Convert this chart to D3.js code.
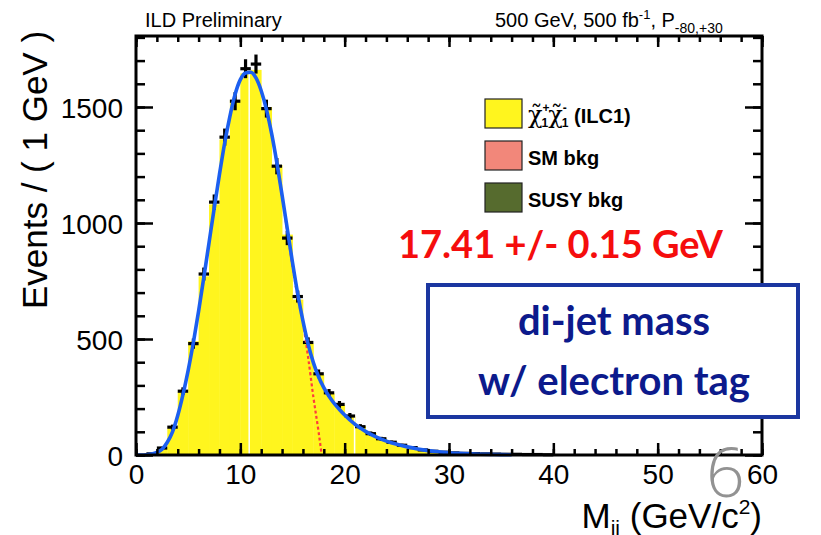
<!DOCTYPE html>
<html>
<head>
<meta charset="utf-8">
<script src="https://cdn.jsdelivr.net/npm/d3@7"></script>
<style>
  body { margin: 0; background: #fff; }
  svg { display: block; }
</style>
</head>
<body>
<svg id="chart" width="821" height="535"></svg>
<script>
// bin centres (1 GeV bins) and the pseudo-data counts with sqrt(N) errors
const binCenters = [0.5, 1.5, 2.5, 3.5, 4.5, 5.5, 6.5, 7.5, 8.5, 9.5,
  10.5, 11.5, 12.5, 13.5, 14.5, 15.5, 16.5, 17.5, 18.5, 19.5,
  20.5, 21.5, 22.5, 23.5, 24.5, 25.5, 26.5, 27.5, 28.5, 29.5,
  30.5, 31.5, 32.5, 33.5, 34.5, 35.5, 36.5, 37.5, 38.5, 39.5];
const eventCounts = [0, 5, 30, 120, 275, 480, 780, 1090, 1370, 1525,
  1665, 1685, 1493, 1245, 935, 683, 485, 350, 268, 218,
  168, 122, 92, 70, 55, 42, 32, 22, 16, 12,
  9, 7, 6, 5, 4, 3, 3, 2, 2, 1];
// stacked signal MC (yellow)
const signalMC = [0, 4, 28, 115, 270, 490, 770, 1080, 1360, 1530,
  1645, 1660, 1500, 1250, 950, 670, 480, 345, 265, 215,
  165, 125, 95, 72, 55, 42, 31, 22, 16, 12,
  9, 7, 5, 4, 3, 3, 2, 2, 1, 1];
// white rendering gaps seen in the filled histogram
const gapLines = [10.85, 20.95];

// total fit (blue)
const fitX = [0, 0.5, 1, 1.5, 2, 2.5, 3, 3.5, 4, 4.5, 5, 5.5, 6, 6.5, 7, 7.5, 8, 8.5, 9, 9.5,
  10, 10.5, 11, 11.5, 12, 12.5, 13, 13.5, 14, 14.5, 15, 15.5, 16, 16.5, 17, 17.5, 18, 18.5, 19, 19.5,
  20, 21, 22, 23, 24, 25, 26, 27, 28, 29, 30, 31, 32, 33, 34, 35, 36];
const fitY = [0, 0, 1, 4, 11, 25, 55, 100, 170, 260, 365, 485, 620, 765, 915, 1065, 1210, 1345, 1460, 1555,
  1618, 1647, 1650, 1625, 1570, 1490, 1385, 1260, 1120, 975, 830, 695, 578, 478, 398, 337, 290, 253, 222, 196,
  172, 132, 102, 78, 60, 46, 35, 26, 19, 14, 10, 7, 5, 3.5, 2.5, 1.5, 1];
// signal component (red dashed), hidden under the total fit below ~15 GeV
const compX = [12, 13, 14, 14.5, 15, 15.5, 16, 16.5, 17, 17.5, 17.8];
const compY = [1570, 1385, 1115, 965, 815, 680, 570, 420, 250, 100, 0];

const xTicks = [0, 10, 20, 30, 40, 50, 60];
const yTicks = [0, 500, 1000, 1500];

const legendItems = ['chi', 'SM bkg', 'SUSY bkg'];
const legendColors = ['#fff51e', '#f2877a', '#566b2e'];

const svg = d3.select('#chart');
const pL = 136, pR = 762, pT = 36, pB = 455;
const x = d3.scaleLinear().domain([0, 60]).range([pL, pR]);
const y = d3.scaleLinear().domain([0, 1806]).range([pB, pT]);

// filled signal histogram
svg.append('g').selectAll('rect')
  .data(binCenters)
  .join('rect')
  .attr('x', (d) => x(d - 0.5))
  .attr('width', (d) => x(d + 0.5) - x(d - 0.5) + 0.4)
  .attr('y', (d, i) => y(signalMC[i]))
  .attr('height', (d, i) => y(0) - y(signalMC[i]))
  .attr('fill', '#fff51e');

gapLines.forEach((g) => {
  let idx = d3.bisectLeft(binCenters.map((c) => c + 0.5), g);
  svg.append('line')
    .attr('x1', x(g)).attr('x2', x(g))
    .attr('y1', y(0)).attr('y2', y(signalMC[idx]))
    .attr('stroke', '#fff').attr('stroke-width', 1.5);
});

const line = d3.line().x((d) => x(d[0])).y((d) => y(d[1])).curve(d3.curveMonotoneX);

// data points with error bars
let pts = svg.append('g').attr('stroke', '#000').attr('stroke-width', 3.2);
binCenters.forEach((c, i) => {
  let n = eventCounts[i];
  if (n <= 0) return;
  let err = Math.sqrt(n);
  pts.append('line')
    .attr('x1', x(c - 0.5)).attr('x2', x(c + 0.5))
    .attr('y1', y(n)).attr('y2', y(n));
  pts.append('line')
    .attr('x1', x(c)).attr('x2', x(c))
    .attr('y1', Math.min(y(n - err), y(0))).attr('y2', y(n + err));
});

svg.append('path')
  .attr('d', line(compX.map((v, i) => [v, compY[i]])))
  .attr('fill', 'none')
  .attr('stroke', '#ff3b3b')
  .attr('stroke-width', 2.2)
  .attr('stroke-dasharray', '3,2.5');

svg.append('path')
  .attr('d', line(fitX.map((v, i) => [v, fitY[i]])))
  .attr('fill', 'none')
  .attr('stroke', '#1c5ff0')
  .attr('stroke-width', 3.6);

// axes, ROOT style ticks pointing inward on all four sides
const minorX = d3.range(0, 61, 2);
const minorY = d3.range(0, 1801, 100);
const tickFont = '"Liberation Sans", Arial, Helvetica, sans-serif';

function styleAxis(g) {
  g.select('.domain').remove();
  g.selectAll('line').attr('stroke', '#000').attr('stroke-width', 2.5);
  g.selectAll('text').attr('font-family', tickFont).attr('fill', '#000');
}

svg.append('g').attr('transform', `translate(0,${pB})`)
  .call(d3.axisBottom(x).tickValues(minorX).tickSize(-6).tickFormat(''))
  .call(styleAxis);
svg.append('g').attr('transform', `translate(0,${pB})`)
  .call(d3.axisBottom(x).tickValues(xTicks).tickSize(-12).tickPadding(9).tickFormat(d3.format('d')))
  .call(styleAxis)
  .selectAll('text').attr('font-size', 28).attr('dy', '0.71em');
svg.append('g').attr('transform', `translate(0,${pT})`)
  .call(d3.axisTop(x).tickValues(minorX).tickSize(-6).tickFormat(''))
  .call(styleAxis);
svg.append('g').attr('transform', `translate(0,${pT})`)
  .call(d3.axisTop(x).tickValues(xTicks).tickSize(-11).tickFormat(''))
  .call(styleAxis);

svg.append('g').attr('transform', `translate(${pL},0)`)
  .call(d3.axisLeft(y).tickValues(minorY).tickSize(-9).tickFormat(''))
  .call(styleAxis);
svg.append('g').attr('transform', `translate(${pL},0)`)
  .call(d3.axisLeft(y).tickValues(yTicks).tickSize(-17).tickPadding(13).tickFormat(d3.format('d')))
  .call(styleAxis)
  .selectAll('text').attr('font-size', 28).attr('dy', '0.36em');
svg.append('g').attr('transform', `translate(${pR},0)`)
  .call(d3.axisRight(y).tickValues(minorY).tickSize(-9).tickFormat(''))
  .call(styleAxis);
svg.append('g').attr('transform', `translate(${pR},0)`)
  .call(d3.axisRight(y).tickValues(yTicks).tickSize(-17).tickFormat(''))
  .call(styleAxis);

svg.append('rect')
  .attr('x', pL).attr('y', pT)
  .attr('width', pR - pL).attr('height', pB - pT)
  .attr('fill', 'none').attr('stroke', '#000').attr('stroke-width', 3);

// axis titles
svg.append('text')
  .attr('transform', `translate(47,170) rotate(-90)`)
  .attr('text-anchor', 'middle')
  .attr('font-family', tickFont).attr('font-size', 35)
  .text('Events / ( 1 GeV )');

let xt = svg.append('text')
  .attr('x', pR).attr('y', 528)
  .attr('text-anchor', 'end')
  .attr('font-family', tickFont).attr('font-size', 35);
xt.append('tspan').text('M');
xt.append('tspan').attr('dy', 7).attr('font-size', 21).text('jj');
xt.append('tspan').attr('dy', -7).text(' (GeV/c');
xt.append('tspan').attr('dy', -14).attr('font-size', 21).text('2');
xt.append('tspan').attr('dy', 14).text(')');

// header
svg.append('text')
  .attr('x', 145).attr('y', 27)
  .attr('font-family', tickFont).attr('font-size', 20)
  .text('ILD Preliminary');
let hd = svg.append('text')
  .attr('x', 495).attr('y', 27)
  .attr('font-family', tickFont).attr('font-size', 20);
hd.append('tspan').text('500 GeV, 500 fb');
hd.append('tspan').attr('dy', -8).attr('font-size', 13).text('-1');
hd.append('tspan').attr('dy', 8).text(', P');
hd.append('tspan').attr('dy', 6).attr('font-size', 14).text('-80,+30');

// legend
const legY = [99, 141, 183];
legendItems.forEach((name, i) => {
  svg.append('rect')
    .attr('x', 485).attr('y', legY[i])
    .attr('width', 37).attr('height', 29)
    .attr('fill', legendColors[i])
    .attr('stroke', '#222').attr('stroke-width', 1.2);
  let t = svg.append('text')
    .attr('x', 528).attr('y', legY[i] + 24)
    .attr('font-family', tickFont).attr('font-size', 20).attr('font-weight', 'bold');
  if (name === 'chi') {
    const chiFont = '"DejaVu Serif", serif';
    t.append('tspan').attr('font-weight', 'normal').attr('font-family', chiFont)
      .attr('font-size', 24).text('\u03C7\u0303');
    t.append('tspan').attr('dy', -11).attr('font-size', 12).text('+');
    t.append('tspan').attr('dx', -8).attr('dy', 15).attr('font-size', 12).text('1');
    t.append('tspan').attr('dy', -4).attr('font-weight', 'normal').attr('font-family', chiFont)
      .attr('font-size', 24).text('\u03C7\u0303');
    t.append('tspan').attr('dy', -11).attr('font-size', 12).text('-');
    t.append('tspan').attr('dx', -5).attr('dy', 15).attr('font-size', 12).text('1');
    t.append('tspan').attr('dy', -4).text(' (ILC1)');
  } else {
    t.text(name);
  }
});

// slide annotations
function fitText(sel, width) {
  let w = sel.node().getComputedTextLength();
  let fs = +sel.attr('font-size');
  sel.attr('font-size', fs * width / w);
}
const slideFont = 'Lato, "Open Sans", sans-serif';

let res = svg.append('text')
  .attr('x', 398).attr('y', 258)
  .attr('font-family', slideFont).attr('font-weight', 'bold').attr('font-size', 30)
  .attr('fill', '#f50d0d')
  .text('17.41 +/- 0.15 GeV');
fitText(res, 325);

svg.append('rect')
  .attr('x', 428).attr('y', 285)
  .attr('width', 370).attr('height', 132)
  .attr('fill', '#fff')
  .attr('stroke', '#1b36a0').attr('stroke-width', 4);

let b1 = svg.append('text')
  .attr('x', 614).attr('y', 335).attr('text-anchor', 'middle')
  .attr('font-family', slideFont).attr('font-weight', 'bold').attr('font-size', 30)
  .attr('fill', '#0c1a8c').text('di-jet mass');
fitText(b1, 192);
let b2 = svg.append('text')
  .attr('x', 614).attr('y', 395).attr('text-anchor', 'middle')
  .attr('font-family', slideFont).attr('font-weight', 'bold').attr('font-size', 30)
  .attr('fill', '#0c1a8c').text('w/ electron tag');
fitText(b2, 272);

svg.append('text')
  .attr('x', 706).attr('y', 497)
  .attr('font-family', '"Open Sans", Lato, sans-serif').attr('font-weight', 300).attr('font-size', 68)
  .attr('fill', '#929292')
  .text('6');
</script>
</body>
</html>
